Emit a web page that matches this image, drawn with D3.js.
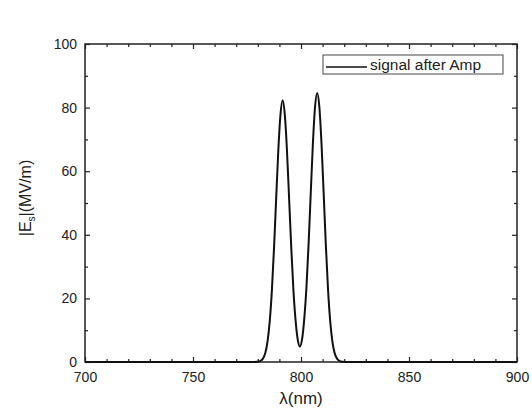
<!DOCTYPE html>
<html>
<head>
<meta charset="utf-8">
<script src="https://d3js.org/d3.v7.min.js"></script>
<style>
  body { margin: 0; background: #fff; }
  svg { display: block; font-family: "Liberation Sans", Arial, sans-serif; }
</style>
</head>
<body>
<script>
// wavelength (nm) and field amplitude (MV/m)
var lambda = [700, 778.5, 779.5, 780.5, 781.5, 782.5, 783.5, 784.5, 785.5, 786.5, 787.5,
  788.5, 789.5, 790.5, 791.5, 792.5, 793.5, 794.5, 795.5, 796.5, 797.5,
  798.5, 799.5, 800.5, 801.5, 802.5, 803.5, 804.5, 805.5, 806.5, 807.5,
  808.5, 809.5, 810.5, 811.5, 812.5, 813.5, 814.5, 815.5, 816.5, 817.5,
  818.5, 819.5, 820.5, 900];
var field = [0, 0, 0.05, 0.15, 0.45, 1.2, 2.9, 6.4, 12.6, 22.3, 35.7,
  51.3, 66.6, 77.8, 82.3, 77.8, 66.6, 51.3, 35.8, 22.5, 13.0,
  7.0, 4.9, 7.2, 13.5, 23.2, 36.9, 52.9, 68.6, 80.2, 84.6,
  80.2, 68.6, 52.9, 36.8, 23.0, 13.0, 6.6, 3.0, 1.25, 0.46,
  0.15, 0.05, 0, 0];

var xTicks = [700, 750, 800, 850, 900];
var yTicks = [0, 20, 40, 60, 80, 100];
var seriesName = "signal after Amp";

var W = 532, H = 410;
var margin = {top: 44, right: 15, bottom: 48, left: 85};
var w = W - margin.left - margin.right,
    h = H - margin.top - margin.bottom;

var svg = d3.select("body").append("svg")
    .attr("width", W).attr("height", H);
var g = svg.append("g")
    .attr("transform", "translate(" + margin.left + "," + margin.top + ")");

var x = d3.scaleLinear().domain([700, 900]).range([0, w]);
var y = d3.scaleLinear().domain([0, 100]).range([h, 0]);

var minorX = d3.range(700, 901, 10).filter(function(d){ return d % 50 !== 0; });
var minorY = d3.range(0, 101, 10).filter(function(d){ return d % 20 !== 0; });

// helper for inward ticks on all four sides
function drawAxis(axis, transform, labels) {
    var a = g.append("g").attr("transform", transform).call(axis);
    a.select(".domain").remove();
    a.selectAll("line").attr("stroke", "#222").attr("stroke-width", 1.2);
    if (!labels) a.selectAll("text").remove();
    else a.selectAll("text").attr("fill", "#222").attr("font-size", "14px");
    return a;
}

// major ticks
drawAxis(d3.axisBottom(x).tickValues(xTicks).tickSize(-5).tickPadding(10), "translate(0," + h + ")", true);
drawAxis(d3.axisTop(x).tickValues(xTicks).tickSize(-5).tickFormat(""), "translate(0,0)", false);
drawAxis(d3.axisLeft(y).tickValues(yTicks).tickSize(-5).tickPadding(8), "translate(0,0)", true);
drawAxis(d3.axisRight(y).tickValues(yTicks).tickSize(-5).tickFormat(""), "translate(" + w + ",0)", false);
// minor ticks
drawAxis(d3.axisBottom(x).tickValues(minorX).tickSize(-3).tickFormat(""), "translate(0," + h + ")", false);
drawAxis(d3.axisTop(x).tickValues(minorX).tickSize(-3).tickFormat(""), "translate(0,0)", false);
drawAxis(d3.axisLeft(y).tickValues(minorY).tickSize(-3).tickFormat(""), "translate(0,0)", false);
drawAxis(d3.axisRight(y).tickValues(minorY).tickSize(-3).tickFormat(""), "translate(" + w + ",0)", false);

// frame
g.append("rect")
    .attr("width", w).attr("height", h)
    .attr("fill", "none").attr("stroke", "#222").attr("stroke-width", 1.5);

// curve
var data = lambda.map(function(l, i){ return [l, field[i]]; });
var line = d3.line()
    .x(function(d){ return x(d[0]); })
    .y(function(d){ return y(d[1]); })
    .curve(d3.curveMonotoneX);
g.append("path")
    .datum(data)
    .attr("d", line)
    .attr("fill", "none")
    .attr("stroke", "#111")
    .attr("stroke-width", 2);

// legend
var lg = svg.append("g").attr("transform", "translate(323,55)");
lg.append("rect")
    .attr("width", 180).attr("height", 19)
    .attr("fill", "#fff").attr("stroke", "#444").attr("stroke-width", 1);
lg.append("line")
    .attr("x1", 3).attr("x2", 44).attr("y1", 12).attr("y2", 12)
    .attr("stroke", "#111").attr("stroke-width", 1.5);
lg.append("text")
    .attr("x", 47).attr("y", 15)
    .attr("font-size", "15.5px").attr("fill", "#222")
    .text(seriesName);

// axis labels
svg.append("text")
    .attr("x", margin.left + w / 2).attr("y", 404)
    .attr("text-anchor", "middle").attr("font-size", "17px").attr("fill", "#222")
    .text("λ(nm)");

var yl = svg.append("text")
    .attr("transform", "translate(31,198) rotate(-90)")
    .attr("text-anchor", "middle").attr("font-size", "16px").attr("fill", "#222");
yl.append("tspan").text("|E");
yl.append("tspan").attr("font-size", "10px").attr("dy", 4).text("s");
yl.append("tspan").attr("dy", -4).text("|(MV/m)");
</script>
</body>
</html>
